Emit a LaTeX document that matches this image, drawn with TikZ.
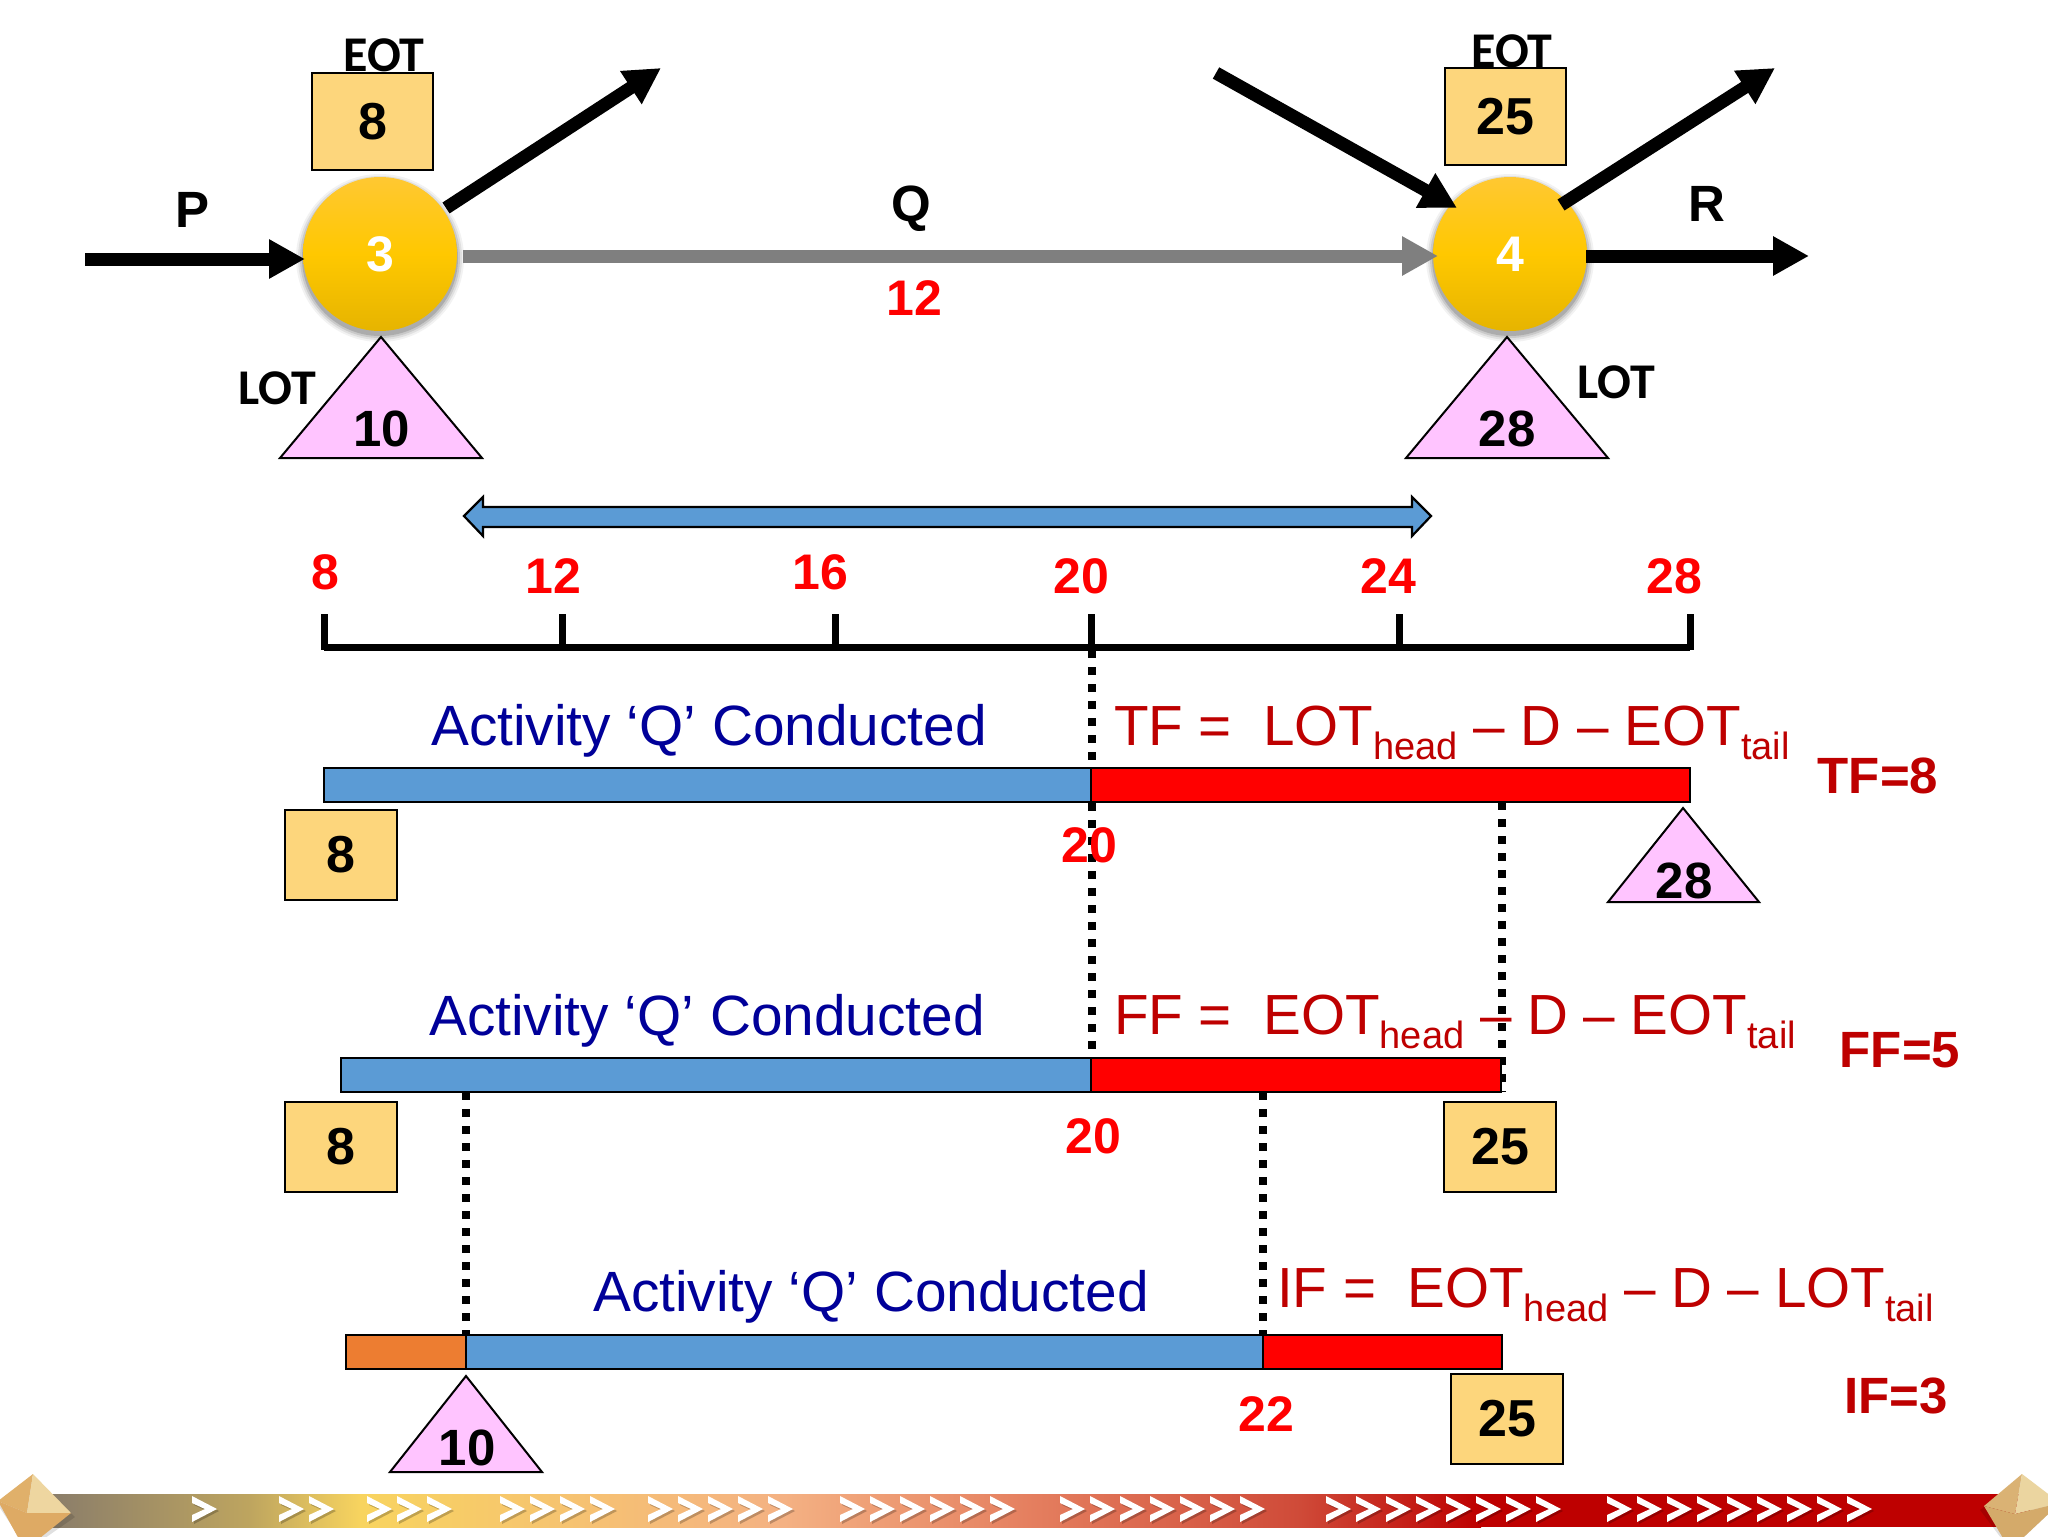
\documentclass[tikz,border=0pt]{standalone}
\usepackage{fontspec}
\setmainfont{Liberation Sans}
\newfontfamily\carl{Carlito}
\usetikzlibrary{arrows.meta,calc}
\definecolor{barblue}{HTML}{5B9BD5}
\definecolor{barorange}{HTML}{ED7D31}
\definecolor{boxtan}{HTML}{FDD67C}
\definecolor{pinktri}{HTML}{FFC4FF}
\definecolor{darkred}{HTML}{BE0000}
\definecolor{actblue}{HTML}{000099}
\definecolor{grayarrow}{HTML}{7F7F7F}
\definecolor{evtop}{HTML}{FFC832}
\definecolor{evmid}{HTML}{FFC800}
\definecolor{evbot}{HTML}{E6B400}
\definecolor{bandA}{RGB}{133,121,107}
\definecolor{bandB}{RGB}{190,165,95}
\definecolor{bandC}{RGB}{248,212,95}
\definecolor{bandD}{RGB}{244,177,131}
\definecolor{bandE}{RGB}{229,128,96}
\definecolor{bandF}{RGB}{207,74,56}
\definecolor{bandG}{RGB}{190,0,0}
\definecolor{dmA}{RGB}{224,176,106}
\definecolor{dmB}{RGB}{238,214,160}
\definecolor{dmC}{RGB}{222,170,100}
\definecolor{dmD}{RGB}{218,178,116}
\definecolor{dmE}{RGB}{235,213,160}
\definecolor{dmF}{RGB}{212,170,106}
\newcommand{\subtxt}[1]{\raisebox{-7pt}{\fontsize{19}{19}\selectfont #1}}
\newcommand{\fs}[1]{\fontsize{#1}{#1}\selectfont}
\newcommand{\dn}[1]{\raisebox{-1.5pt}{#1}}
\tikzset{
  lab/.style={inner sep=0pt,outer sep=0pt,align=center},
  redlab/.style={lab,text=red,font=\fs{25}\bfseries},
  blacklab/.style={lab,text=black,font=\fs{25.5}\bfseries},
  carlab/.style={lab,text=black,font=\carl\fs{25}\bfseries},
  evt/.style={circle,minimum size=77pt,inner sep=0pt,outer sep=0pt,top color=evtop,bottom color=evbot,middle color=evmid,text=white,font=\fs{25}\bfseries},
  tanbox/.style={draw=black,line width=1pt,fill=boxtan,inner sep=0pt,outer sep=0pt,font=\fs{26}\bfseries},
  tritri/.style={draw=black,line width=1pt,fill=pinktri,line join=miter},
  bar/.style={draw=black,line width=1pt,inner sep=0pt,outer sep=0pt,minimum height=17pt,anchor=north west},
  bigarrow/.style={line width=6.5pt,-{Triangle[length=18pt,width=18.5pt]}},
  dots/.style={line width=4.4pt,black,dash pattern=on 4.2pt off 4.3pt},
  axisline/.style={line width=3.5pt,black},
  acttxt/.style={lab,text=actblue,font=\fs{28.4}},
  formula/.style={lab,anchor=base west,text=darkred,font=\fs{28.3}},
  resulttxt/.style={lab,text=darkred,font=\fs{25.5}\bfseries},
}
\begin{document}
\begin{tikzpicture}[x=0.5pt,y=-0.5pt]
\useasboundingbox (0,0) rectangle (2048,1536);
\fill[white] (0,0) rectangle (2048,1536);

% event shadows
\foreach \cx in {380,1510}{
  \foreach \rr/\op in {84/.05,82/.07,80/.1,78/.14}{
    \fill[black,opacity=\op] (\cx,258) circle[radius=\rr];
  }
}
% events
\node[evt] (n3) at (380,254) {\raisebox{-1.5pt}{3}};
\node[evt] (n4) at (1510,254) {\raisebox{-1.5pt}{4}};

% boxes above events
\node[tanbox,minimum width=60.5pt,minimum height=48.5pt] (b8) at (372.5,121.5) {\dn{8}};
\node[tanbox,minimum width=60.5pt,minimum height=48.5pt] (b25) at (1505.5,116.5) {\dn{25}};
\node[carlab] (eot1) at (384,55) {EOT};
\node[carlab] (eot2) at (1512,51) {EOT};

% arrows
\coordinate (pstart) at (85,259);
\coordinate (ptip) at (305,259);
\coordinate (o3end) at (661,68);
\coordinate (o3start) at (446,208);
\coordinate (qstart) at (463,256);
\coordinate (qtip) at (1438,256);
\coordinate (instart) at (1216,73);
\coordinate (intip) at (1457,208);
\coordinate (o4start) at (1561,205);
\coordinate (o4end) at (1775,68);
\coordinate (rstart) at (1586,256);
\coordinate (rtip) at (1809,256);
\draw[bigarrow] (pstart) -- (ptip);
\draw[bigarrow] (o3start) -- (o3end);
\draw[bigarrow,grayarrow] (qstart) -- (qtip);
\draw[bigarrow] (instart) -- (intip);
\draw[bigarrow] (o4start) -- (o4end);
\draw[bigarrow] (rstart) -- (rtip);

\node[blacklab] (lp) at (193,210) {P};
\node[blacklab] (lq) at (911,209) {Q};
\node[blacklab] (lr) at (1707,204) {R};
\node[redlab] (l12) at (914,298) {12};

% triangles at events
\draw[tritri] (381,337) -- (280,458) -- (482,458) -- cycle;
\node[blacklab] (t10) at (382,429) {10};
\draw[tritri] (1507,337) -- (1406,458) -- (1608,458) -- cycle;
\node[blacklab] (t28) at (1507,429) {28};
\node[carlab] (lot1) at (277,388) {LOT};
\node[carlab] (lot2) at (1616,382) {LOT};

% blue double arrow
\draw[draw=black,line width=1.1pt,fill=barblue,line join=miter]
  (464,516) -- (483,497) -- (483,507) -- (1412,507) -- (1412,497) -- (1431,516)
  -- (1412,536) -- (1412,527) -- (483,527) -- (483,536) -- cycle;

% time axis
\coordinate (axl) at (324,647);
\coordinate (axr) at (1690,647);
\draw[axisline] (axl) -- (axr);
\foreach \tx in {324,562,835,1091,1399,1690}{
  \draw[axisline] (\tx,614) -- (\tx,650);
}
\node[redlab] (a8) at (325,572) {8};
\node[redlab] (a12) at (553,576) {12};
\node[redlab] (a16) at (820,572) {16};
\node[redlab] (a20) at (1081,576) {20};
\node[redlab] (a24) at (1388,576) {24};
\node[redlab] (a28) at (1674,576) {28};

% dotted guides
\coordinate (d20a) at (1092,650);
\coordinate (d20b) at (1092,1092);
\coordinate (d25a) at (1502,802);
\coordinate (d25b) at (1502,1092);
\coordinate (d10a) at (466,1092);
\coordinate (d10b) at (466,1353);
\coordinate (d22a) at (1263,1092);
\coordinate (d22b) at (1263,1335);
\draw[dots] (d20a) -- (d20b);
\draw[dots] (d25a) -- (d25b);
\draw[dots] (d10a) -- (d10b);
\draw[dots] (d22a) -- (d22b);

% row 1
\node[bar,fill=barblue,minimum width=383.5pt] (r1b) at (324,768) {};
\node[bar,fill=red,minimum width=299.5pt] (r1r) at (1091,768) {};
\node[acttxt] (act1) at (709,731) {Activity ‘Q’ Conducted};
\node[formula] (f1) at (1114,745) {TF =\ \ LOT\subtxt{head} -- D -- EOT\subtxt{tail}};
\node[resulttxt] (res1) at (1878,776) {TF=8};
\node[tanbox,minimum width=56pt,minimum height=45pt] (r1box) at (341,855) {\dn{8}};
\node[redlab] (r1n) at (1089,845) {20};
\draw[tritri] (1683,808) -- (1608,902) -- (1759,902) -- cycle;
\node[blacklab] (r1t) at (1684,881) {28};

% row 2
\node[bar,fill=barblue,minimum width=375pt] (r2b) at (341,1058) {};
\node[bar,fill=red,minimum width=205pt] (r2r) at (1091,1058) {};
\node[acttxt] (act2) at (707,1021) {Activity ‘Q’ Conducted};
\node[formula] (f2) at (1114,1034) {FF =\ \ EOT\subtxt{head} -- D -- EOT\subtxt{tail}};
\node[resulttxt] (res2) at (1900,1050) {FF=5};
\node[tanbox,minimum width=56pt,minimum height=45pt] (r2box) at (341,1147) {\dn{8}};
\node[tanbox,minimum width=56pt,minimum height=45pt] (r2box2) at (1500,1147) {\dn{25}};
\node[redlab] (r2n) at (1093,1136) {20};

% row 3
\node[bar,fill=barorange,minimum width=60pt] (r3o) at (346,1335) {};
\node[bar,fill=barblue,minimum width=398.5pt] (r3b) at (466,1335) {};
\node[bar,fill=red,minimum width=119.5pt] (r3r) at (1263,1335) {};
\node[acttxt] (act3) at (871,1297) {Activity ‘Q’ Conducted};
\node[formula] (f3) at (1277,1307) {IF =\ \ EOT\subtxt{head} -- D -- LOT\subtxt{tail}};
\node[resulttxt] (res3) at (1896,1396) {IF=3};
\node[tanbox,minimum width=56pt,minimum height=45pt] (r3box) at (1507,1419) {\dn{25}};
\node[redlab] (r3n) at (1266,1414) {22};
\draw[tritri] (466,1376) -- (390,1472) -- (542,1472) -- cycle;
\node[blacklab] (r3t) at (467,1448) {10};

% bottom band
\shade[left color=bandA,right color=bandB] (30,1494) rectangle (251,1527);
\shade[left color=bandB,right color=bandC] (250,1494) rectangle (361,1527);
\shade[left color=bandC,right color=bandD] (360,1494) rectangle (785,1527);
\shade[left color=bandD,right color=bandE] (784,1494) rectangle (1025,1527);
\shade[left color=bandE,right color=bandF] (1024,1494) rectangle (1301,1527);
\shade[left color=bandF,right color=bandG] (1300,1494) rectangle (1481,1527);
\fill[bandG] (1480,1494) rectangle (2030,1527);

% chevrons
\foreach \s/\n in {192/1,279/2,367/3,500/4,648/5,840/6,1060/7,1326/8,1607/9}{
  \foreach \i in {1,...,\n}{
    \begin{scope}[shift={(\s+30*\i-30,1495)}]
      \fill[black,opacity=.22] (2,3) -- (27,16) -- (2,29) -- (2,22) -- (15,16) -- (2,10) -- cycle;
      \fill[white] (0,1) -- (25,14) -- (0,27) -- (0,20) -- (13,14) -- (0,8) -- cycle;
    \end{scope}
  }
}

% diamonds
\fill[black,opacity=.12] (-2,1505) -- (33,1478) -- (75,1517) -- (28,1550) -- cycle;
\fill[black,opacity=.12] (1980,1510) -- (2022,1478) -- (2060,1503) -- (2010,1550) -- cycle;
\fill[dmA] (33,1474) -- (-2,1501) -- (27,1513) -- cycle;
\fill[dmB] (33,1474) -- (71,1513) -- (27,1513) -- cycle;
\fill[dmC] (-2,1501) -- (27,1513) -- (71,1513) -- (25,1550) -- cycle;
\fill[dmD] (2022,1474) -- (1984,1506) -- (2015,1514) -- cycle;
\fill[dmE] (2022,1474) -- (2060,1503) -- (2015,1514) -- cycle;
\fill[dmF] (1984,1506) -- (2015,1514) -- (2060,1503) -- (2010,1550) -- cycle;
\end{tikzpicture}
\end{document}
